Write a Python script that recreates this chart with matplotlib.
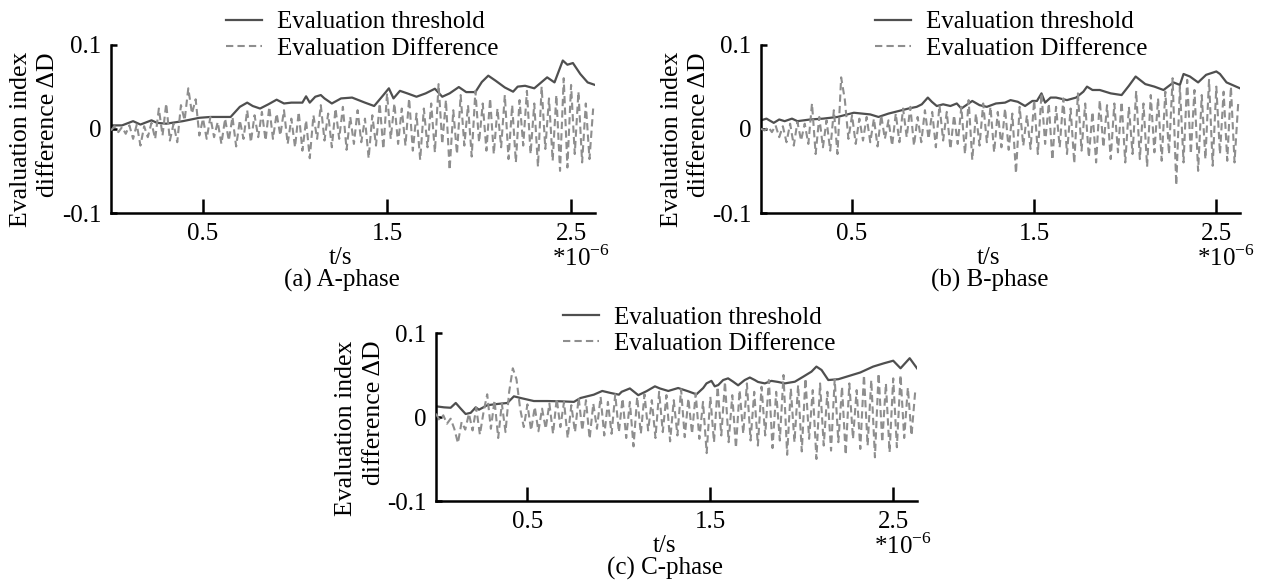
import numpy as np
import matplotlib
matplotlib.use("Agg")
import matplotlib.pyplot as plt

plt.rcParams['font.family'] = ['Liberation Serif', 'DejaVu Serif']
plt.rcParams['mathtext.fontset'] = 'custom'
plt.rcParams['mathtext.rm'] = 'Liberation Serif'

# ---------------- data ----------------
x_ticks = [0.5, 1.5, 2.5]
x_tick_labels = ['0.5', '1.5', '2.5']
y_ticks = [-0.1, 0.0, 0.1]
y_tick_labels = ['-0.1', '0', '0.1']
legend_labels = ['Evaluation threshold', 'Evaluation Difference']
panel_titles = ['(a) A-phase', '(b) B-phase', '(c) C-phase']
sample_step = 0.02  # time between difference samples (*1e-6 s)

# Panel (a) threshold
thr_a_t = [0, 0.06, 0.12, 0.16, 0.22, 0.25, 0.30, 0.39, 0.48, 0.54, 0.65, 0.70, 0.74, 0.77,
           0.81, 0.855, 0.90, 0.94, 0.98, 1.04, 1.06, 1.08, 1.11, 1.14, 1.16, 1.20, 1.25, 1.31,
           1.38, 1.43, 1.48, 1.51, 1.535, 1.57, 1.61, 1.66, 1.71, 1.76, 1.80, 1.84, 1.89, 1.93,
           1.98, 2.015, 2.05, 2.09, 2.14, 2.185, 2.21, 2.25, 2.30, 2.37, 2.41, 2.455, 2.48,
           2.51, 2.55, 2.59, 2.63]
thr_a_v = [0.004, 0.004, 0.009, 0.005, 0.010, 0.007, 0.006, 0.009, 0.013, 0.014, 0.014, 0.026,
           0.031, 0.027, 0.024, 0.029, 0.0345, 0.030, 0.031, 0.031, 0.0385, 0.031, 0.038, 0.040,
           0.036, 0.030, 0.036, 0.037, 0.031, 0.027, 0.040, 0.048, 0.036, 0.045, 0.042, 0.038,
           0.042, 0.0475, 0.038, 0.042, 0.0495, 0.0435, 0.0435, 0.0555, 0.063, 0.057, 0.049,
           0.044, 0.050, 0.051, 0.048, 0.061, 0.055, 0.081, 0.076, 0.078, 0.065, 0.055, 0.052]

# Panel (a) evaluation difference (one value every 0.02)
diff_a = [-0.002, 0.003, -0.004, 0.002, -0.006, 0.004, -0.012, 0.005, -0.020, 0.003,
          -0.010, 0.007, -0.012, 0.024, -0.008, 0.030, -0.014, 0.006, -0.016, 0.028,
          0.010, 0.048, 0.018, 0.035, -0.008, 0.012, -0.012, 0.014, -0.010, 0.008,
          -0.018, 0.012, -0.014, 0.014, -0.021, 0.010, -0.012, 0.022, -0.016, 0.016,
          -0.010, 0.020, -0.014, 0.026, -0.012, 0.018, -0.008, 0.022, -0.018, 0.012,
          -0.022, 0.020, -0.026, 0.010, -0.035, 0.016, -0.012, 0.028, -0.014, 0.018,
          -0.022, 0.024, -0.012, 0.026, -0.025, 0.014, -0.018, 0.022, -0.016, 0.012,
          -0.035, 0.016, -0.020, 0.030, -0.024, 0.042, -0.012, 0.030, -0.018, 0.024,
          -0.020, 0.036, -0.026, 0.018, -0.037, 0.024, -0.022, 0.030, -0.028, 0.053,
          -0.018, 0.034, -0.049, 0.022, -0.030, 0.040, -0.020, 0.028, -0.033, 0.045,
          -0.016, 0.030, -0.026, 0.036, -0.030, 0.024, -0.022, 0.040, -0.036, 0.028,
          -0.040, 0.034, -0.020, 0.045, -0.030, 0.030, -0.045, 0.050, -0.024, 0.036,
          -0.038, 0.040, -0.050, 0.060, -0.046, 0.052, -0.030, 0.044, -0.040, 0.030,
          -0.036, 0.024]

# Panel (b) threshold
thr_b_t = [0, 0.03, 0.07, 0.10, 0.13, 0.17, 0.20, 0.27, 0.34, 0.42, 0.51, 0.60, 0.645, 0.70,
           0.755, 0.81, 0.855, 0.883, 0.916, 0.938, 0.965, 1.00, 1.04, 1.075, 1.10, 1.16, 1.20,
           1.24, 1.29, 1.34, 1.37, 1.41, 1.45, 1.49, 1.515, 1.54, 1.56, 1.59, 1.62, 1.68, 1.73,
           1.77, 1.79, 1.82, 1.86, 1.92, 1.98, 2.02, 2.057, 2.11, 2.16, 2.21, 2.265, 2.30, 2.32,
           2.355, 2.40, 2.444, 2.50, 2.52, 2.556, 2.63]
thr_b_v = [0.010, 0.012, 0.007, 0.011, 0.009, 0.012, 0.009, 0.011, 0.012, 0.014, 0.019, 0.017,
           0.014, 0.018, 0.021, 0.024, 0.026, 0.029, 0.037, 0.032, 0.027, 0.029, 0.027, 0.030,
           0.024, 0.033, 0.028, 0.026, 0.030, 0.031, 0.034, 0.032, 0.027, 0.033, 0.033, 0.042,
           0.031, 0.037, 0.037, 0.034, 0.037, 0.044, 0.050, 0.046, 0.046, 0.042, 0.040, 0.051,
           0.062, 0.053, 0.050, 0.046, 0.055, 0.052, 0.065, 0.062, 0.055, 0.064, 0.068, 0.065,
           0.055, 0.048]

# Panel (b) evaluation difference
diff_b = [0.000, -0.002, 0.002, -0.004, 0.004, -0.010, 0.003, -0.016, 0.006, -0.020,
          0.008, -0.014, 0.006, -0.018, 0.030, -0.030, 0.014, -0.022, 0.010, -0.026,
          0.022, -0.030, 0.061, 0.035, -0.012, 0.016, -0.018, 0.012, -0.014, 0.014,
          -0.016, 0.012, -0.021, 0.016, -0.012, 0.010, -0.020, 0.018, -0.016, 0.024,
          -0.010, 0.026, -0.020, 0.014, -0.016, 0.022, -0.012, 0.020, -0.022, 0.028,
          -0.014, 0.020, -0.024, 0.016, -0.018, 0.026, -0.030, 0.034, -0.037, 0.018,
          -0.020, 0.030, -0.016, 0.026, -0.028, 0.020, -0.022, 0.024, -0.025, 0.018,
          -0.053, 0.026, -0.020, 0.016, -0.024, 0.034, -0.030, 0.042, -0.018, 0.030,
          -0.037, 0.026, -0.022, 0.036, -0.030, 0.024, -0.041, 0.042, -0.026, 0.030,
          -0.034, 0.020, -0.040, 0.034, -0.022, 0.028, -0.036, 0.030, -0.028, 0.032,
          -0.040, 0.026, -0.030, 0.045, -0.036, 0.030, -0.045, 0.040, -0.028, 0.036,
          -0.038, 0.044, -0.030, 0.060, -0.067, 0.050, -0.040, 0.058, -0.030, 0.046,
          -0.050, 0.040, -0.036, 0.058, -0.044, 0.050, -0.030, 0.044, -0.038, 0.050,
          -0.040, 0.030]

# Panel (c) threshold
thr_c_t = [0, 0.044, 0.08, 0.108, 0.135, 0.162, 0.19, 0.217, 0.235, 0.28, 0.335, 0.39, 0.426,
           0.463, 0.535, 0.608, 0.68, 0.754, 0.79, 0.863, 0.909, 0.955, 1.0, 1.015, 1.06, 1.106,
           1.15, 1.197, 1.224, 1.27, 1.324, 1.379, 1.424, 1.461, 1.479, 1.506, 1.524, 1.543,
           1.57, 1.597, 1.625, 1.652, 1.688, 1.716, 1.743, 1.761, 1.798, 1.834, 1.871, 1.907,
           1.962, 2.008, 2.053, 2.08, 2.108, 2.145, 2.20, 2.26, 2.32, 2.39, 2.45, 2.50, 2.54,
           2.59, 2.63]
thr_c_v = [0.0127, 0.0115, 0.011, 0.0167, 0.010, 0.0036, 0.005, 0.0115, 0.0087, 0.014, 0.0155,
           0.0167, 0.0246, 0.0226, 0.019, 0.019, 0.0187, 0.018, 0.0226, 0.0266, 0.031, 0.0286,
           0.0266, 0.030, 0.034, 0.026, 0.0306, 0.0365, 0.034, 0.031, 0.0345, 0.0306, 0.027,
           0.0345, 0.040, 0.043, 0.0365, 0.038, 0.044, 0.046, 0.042, 0.0377, 0.044, 0.047,
           0.044, 0.0417, 0.040, 0.043, 0.0417, 0.040, 0.042, 0.048, 0.054, 0.060, 0.056,
           0.044, 0.045, 0.049, 0.053, 0.060, 0.064, 0.067, 0.058, 0.070, 0.058]

# Panel (c) evaluation difference
diff_c = [0.004, -0.004, 0.002, -0.008, -0.002, -0.014, -0.031, -0.006, -0.015, 0.004,
          -0.016, 0.011, -0.021, 0.006, 0.027, -0.014, 0.020, -0.025, 0.016, -0.018,
          0.030, 0.058, 0.045, 0.010, -0.012, 0.015, -0.016, 0.012, -0.017, 0.010,
          -0.014, 0.016, -0.020, 0.022, -0.012, 0.018, -0.025, 0.014, -0.018, 0.023,
          -0.016, 0.020, -0.026, 0.016, -0.014, 0.024, -0.022, 0.018, -0.020, 0.027,
          -0.018, 0.022, -0.025, 0.018, -0.035, 0.024, -0.020, 0.027, -0.016, 0.020,
          -0.025, 0.030, -0.018, 0.026, -0.029, 0.020, -0.022, 0.033, -0.024, 0.022,
          -0.020, 0.028, -0.026, 0.018, -0.043, 0.024, -0.030, 0.036, -0.022, 0.042,
          -0.030, 0.026, -0.037, 0.032, -0.020, 0.040, -0.028, 0.030, -0.034, 0.036,
          -0.022, 0.044, -0.037, 0.030, -0.028, 0.050, -0.045, 0.034, -0.030, 0.038,
          -0.041, 0.046, -0.026, 0.032, -0.050, 0.040, -0.034, 0.030, -0.040, 0.045,
          -0.030, 0.036, -0.045, 0.040, -0.026, 0.032, -0.038, 0.050, -0.034, 0.044,
          -0.048, 0.052, -0.030, 0.040, -0.042, 0.046, -0.036, 0.050, -0.025, 0.035,
          -0.022, 0.030]

# ---------------- figure ----------------
W, H = 1264, 586
fig = plt.figure(figsize=(W / 100, H / 100), dpi=100)

THR_COLOR = '#4f4f4f'
DIFF_COLOR = '#8e8e8e'
FS = 18


def px_axes(left, right, top, bottom):
    return fig.add_axes([left / W, 1 - bottom / H, (right - left) / W, (bottom - top) / H])


panels = [
    dict(box=(111, 595, 44.5, 213), thr_t=thr_a_t, thr_v=thr_a_v, diff=diff_a,
         leg=(226, 11), title=panel_titles[0]),
    dict(box=(761, 1240, 44.5, 213), thr_t=thr_b_t, thr_v=thr_b_v, diff=diff_b,
         leg=(875, 11), title=panel_titles[1]),
    dict(box=(436, 917, 333, 501), thr_t=thr_c_t, thr_v=thr_c_v, diff=diff_c,
         leg=(563, 306), title=panel_titles[2]),
]

for p in panels:
    ax = px_axes(*p['box'])
    t_diff = np.arange(len(p['diff'])) * sample_step
    l1, = ax.plot(p['thr_t'], p['thr_v'], color=THR_COLOR, lw=1.6, zorder=2)
    l2, = ax.plot(t_diff, p['diff'], color=DIFF_COLOR, lw=1.5, ls=(0, (3.5, 2)), zorder=3)

    ax.set_xlim(0, 2.63)
    ax.set_ylim(-0.1, 0.1)
    ax.spines[['top', 'right']].set_visible(False)
    for s in ('left', 'bottom'):
        ax.spines[s].set_linewidth(1.8)
    ax.set_xticks(x_ticks)
    ax.set_xticklabels(x_tick_labels)
    ax.set_yticks(y_ticks)
    ax.set_yticklabels(y_tick_labels)
    ax.tick_params(axis='x', direction='in', length=10, width=1.8, pad=7, labelsize=FS)
    ax.tick_params(axis='y', direction='in', length=4, width=1.8, pad=7, labelsize=FS)

    ax.text(0.475, -0.27, 't/s', transform=ax.transAxes, ha='center', va='center', fontsize=FS)
    ax.text(1.03, -0.27, r'*10$^{\mathrm{-6}}$', transform=ax.transAxes, ha='right',
            va='center', fontsize=FS)
    ax.text(0.477, -0.40, p['title'], transform=ax.transAxes, ha='center', va='center',
            fontsize=FS)
    ax.text(-0.158, 0.435, 'Evaluation index\ndifference ΔD', transform=ax.transAxes,
            rotation=90, ha='center', va='center', multialignment='right', fontsize=FS + 0.5,
            linespacing=1.3)

    lx, ly = p['leg']
    ax.legend([l1, l2], legend_labels, loc='upper left',
              bbox_to_anchor=(lx / W, 1 - ly / H), bbox_transform=fig.transFigure,
              frameon=False, fontsize=FS, handlelength=1.45, handletextpad=0.6,
              labelspacing=0.15, borderpad=0, borderaxespad=0)

fig.savefig('out.png', dpi=100)
